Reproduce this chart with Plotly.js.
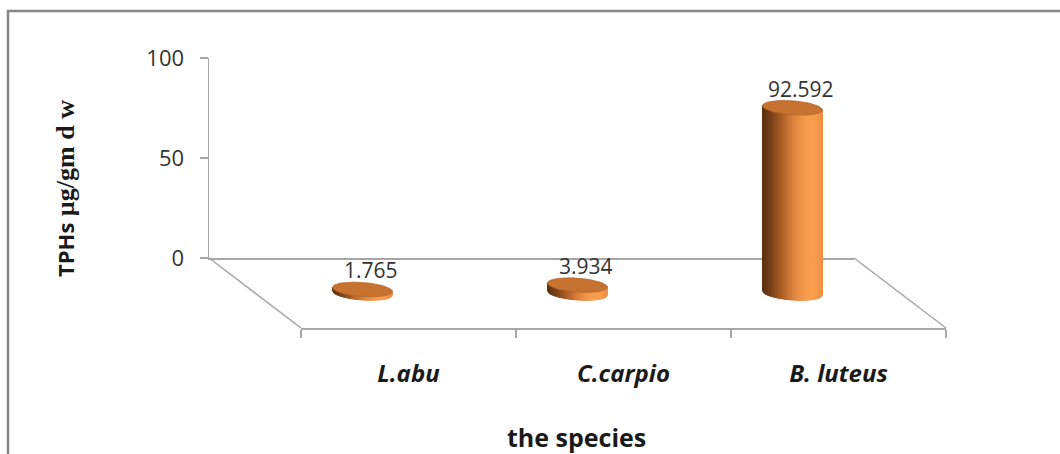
<!DOCTYPE html>
<html>
<head>
<meta charset="utf-8">
<script src="https://cdn.plot.ly/plotly-3.0.1.min.js"></script>
<style>
  html, body { margin: 0; padding: 0; background: #ffffff; }
  #chart { width: 1060px; height: 454px; }
</style>
</head>
<body>
<div id="chart"></div>
<script>
// ---- data ----
const species = ['L.abu', 'C.carpio', 'B. luteus'];
const tphs = [1.765, 3.934, 92.592];
const yTickValues = [0, 50, 100];
const yTitle = '<span style="font-family:\'Open Sans\';font-size:22px">TPHs</span> µg/gm d w';
const xTitle = 'the species';

// ---- geometry of the pseudo-3D box (page pixels) ----
const W = 1060, H = 454;
const BACK = { x0: 209, x1: 854, y: 258 };   // back edge of the floor, value 0
const FRONT = { x0: 301, x1: 946, y: 328 };  // front edge of the floor
const TOP_Y = 58;                             // value 100 on the wall axis
const DEPTH_X = (FRONT.x0 - BACK.x0) / 2;     // cylinders stand mid-depth
const DEPTH_Y = (FRONT.y - BACK.y) / 2;
const fx = px => px / W;
const fy = py => 1 - py / H;

const BAR = {
  x0: BACK.x0 + DEPTH_X, x1: BACK.x1 + DEPTH_X,
  y0: BACK.y + DEPTH_Y, y1: TOP_Y + DEPTH_Y
};
const PX_PER_CAT = (BAR.x1 - BAR.x0) / species.length;
const PX_PER_UNIT = (BAR.y0 - BAR.y1) / 100;
const BAR_LOW = -15;   // room below the base for the rounded cylinder bottoms

// cylinder look
const RX = 30, RY = 7, SHEAR = 0.07, SLICES = 32;
const GRAD = [
  [0.00, [88, 46, 14]],
  [0.15, [120, 64, 22]],
  [0.35, [178, 97, 40]],
  [0.55, [226, 136, 63]],
  [0.75, [248, 157, 78]],
  [0.90, [247, 154, 74]],
  [1.00, [236, 143, 68]]
];
function shade(t) {
  for (let i = 1; i < GRAD.length; i++) {
    if (t <= GRAD[i][0]) {
      const [t0, c0] = GRAD[i - 1], [t1, c1] = GRAD[i];
      const u = (t - t0) / (t1 - t0);
      const c = c0.map((v, k) => Math.round(v + (c1[k] - v) * u));
      return `rgb(${c[0]},${c[1]},${c[2]})`;
    }
  }
  const c = GRAD[GRAD.length - 1][1];
  return `rgb(${c[0]},${c[1]},${c[2]})`;
}

// pixel offsets around a cylinder axis -> data coordinates on x3/y3
const dx = (cx, ox) => cx + ox / PX_PER_CAT;
const dy = (base, oy) => base - oy / PX_PER_UNIT;   // oy: pixels downward

function cylinder(cx, value) {
  const out = [];
  const bottom = ox => SHEAR * ox + RY * Math.sqrt(Math.max(0, 1 - (ox / RX) ** 2));
  for (let s = 0; s < SLICES; s++) {
    const a = -RX + 2 * RX * s / SLICES;
    const b = -RX + 2 * RX * (s + 1) / SLICES;
    const col = shade((s + 0.5) / SLICES);
    out.push({
      type: 'scatter', mode: 'lines', xaxis: 'x3', yaxis: 'y3',
      x: [dx(cx, a), dx(cx, b), dx(cx, b), dx(cx, a), dx(cx, a)],
      y: [dy(value, SHEAR * a), dy(value, SHEAR * b), dy(0, bottom(b)), dy(0, bottom(a)), dy(value, SHEAR * a)],
      fill: 'toself', fillcolor: col,
      line: { color: col, width: 1 },
      hoverinfo: 'skip', showlegend: false
    });
  }
  const ex = [], ey = [];
  for (let i = 0; i <= 72; i++) {
    const t = 2 * Math.PI * i / 72;
    const ox = RX * Math.cos(t);
    const oy = RY * Math.sin(t) + SHEAR * ox;
    ex.push(dx(cx, ox));
    ey.push(dy(value, oy));
  }
  out.push({
    type: 'scatter', mode: 'lines', xaxis: 'x3', yaxis: 'y3',
    x: ex, y: ey, fill: 'toself', fillcolor: '#c67331',
    line: { color: '#b5662b', width: 0.8 },
    hoverinfo: 'skip', showlegend: false
  });
  return out;
}

const traces = [];
// holders so the wall axis and the front edge axis get drawn
traces.push({
  type: 'scatter', mode: 'markers', xaxis: 'x', yaxis: 'y',
  x: [0.5], y: [0], marker: { opacity: 0 }, hoverinfo: 'skip', showlegend: false
});
traces.push({
  type: 'scatter', mode: 'markers', xaxis: 'x2', yaxis: 'y2',
  x: species, y: species.map(() => 0),
  marker: { opacity: 0 }, hoverinfo: 'skip', showlegend: false
});
tphs.forEach((v, i) => traces.push(...cylinder(i, v)));

const gridGrey = '#a6a6a6';
const layout = {
  width: W, height: H,
  margin: { l: 0, r: 0, t: 0, b: 0 },
  paper_bgcolor: '#ffffff', plot_bgcolor: 'rgba(0,0,0,0)',
  showlegend: false,
  font: { family: 'Open Sans', color: '#333333' },
  // back wall: value axis plus back edge of the floor
  xaxis: {
    domain: [fx(BACK.x0), fx(BACK.x1)], range: [0, 1], anchor: 'y',
    showline: true, linecolor: gridGrey, linewidth: 1.5,
    showticklabels: false, ticks: '', showgrid: false, zeroline: false,
    layer: 'below traces', fixedrange: true
  },
  yaxis: {
    domain: [fy(BACK.y), fy(TOP_Y)], range: [0, 100], anchor: 'x',
    tickvals: yTickValues, ticktext: yTickValues.map(String),
    ticks: 'outside', ticklen: 8, tickwidth: 1.5, tickcolor: gridGrey,
    showline: true, linecolor: gridGrey, linewidth: 1.5,
    showgrid: false, zeroline: false, layer: 'below traces',
    tickfont: { family: 'Open Sans', size: 22, color: '#333333' },
    ticklabelstandoff: 11, fixedrange: true
  },
  // front edge of the floor with the species names
  xaxis2: {
    domain: [fx(FRONT.x0), fx(FRONT.x1)], anchor: 'y2',
    type: 'category', categoryorder: 'array', categoryarray: species,
    range: [-0.5, species.length - 0.5],
    showline: true, linecolor: gridGrey, linewidth: 1.5,
    ticks: 'outside', tickson: 'boundaries', ticklen: 8, tickwidth: 1.5, tickcolor: gridGrey,
    showgrid: false, zeroline: false, layer: 'below traces',
    tickfont: { family: 'Open Sans', size: 24, style: 'italic', weight: 'bold', color: '#1a1a1a' },
    ticklabelstandoff: 24, fixedrange: true
  },
  yaxis2: {
    domain: [fy(FRONT.y), fy(FRONT.y) + 0.2], range: [0, 1], anchor: 'x2',
    visible: false, fixedrange: true
  },
  // cylinders
  xaxis3: {
    domain: [fx(BAR.x0), fx(BAR.x1)], range: [-0.5, species.length - 0.5],
    anchor: 'y3', visible: false, fixedrange: true
  },
  yaxis3: {
    domain: [fy(BAR.y0 - BAR_LOW * PX_PER_UNIT), fy(BAR.y1)], range: [BAR_LOW, 100],
    anchor: 'x3', visible: false, fixedrange: true
  },
  shapes: [
    { type: 'line', xref: 'paper', yref: 'paper', layer: 'below',
      x0: fx(BACK.x0), y0: fy(BACK.y), x1: fx(FRONT.x0), y1: fy(FRONT.y),
      line: { color: gridGrey, width: 1.5 } },
    { type: 'line', xref: 'paper', yref: 'paper', layer: 'below',
      x0: fx(BACK.x1), y0: fy(BACK.y), x1: fx(FRONT.x1), y1: fy(FRONT.y),
      line: { color: gridGrey, width: 1.5 } },
    { type: 'rect', xref: 'paper', yref: 'paper', layer: 'below',
      x0: fx(8), y0: fy(11), x1: 1.1, y1: -0.1,
      line: { color: '#878787', width: 2.5 } }
  ],
  annotations: [
    ...tphs.map((v, i) => ({
      xref: 'x3', yref: 'y3', x: i, y: v, text: String(v),
      showarrow: false, xanchor: 'center', yanchor: 'middle',
      xshift: 8, yshift: 19,
      font: { family: 'Open Sans', size: 21, color: '#333333' }
    })),
    {
      xref: 'paper', yref: 'paper', x: fx(576), y: fy(437), text: xTitle,
      showarrow: false, xanchor: 'center', yanchor: 'middle',
      font: { family: 'Open Sans', size: 25, weight: 'bold', color: '#1a1a1a' }
    },
    {
      xref: 'paper', yref: 'paper', x: fx(65), y: fy(189), text: yTitle,
      showarrow: false, xanchor: 'center', yanchor: 'middle', textangle: -90,
      font: { family: 'Liberation Serif', size: 26, weight: 'bold', color: '#1a1a1a' }
    }
  ]
};

Plotly.newPlot('chart', traces, layout, { staticPlot: true, displayModeBar: false });
</script>
</body>
</html>
